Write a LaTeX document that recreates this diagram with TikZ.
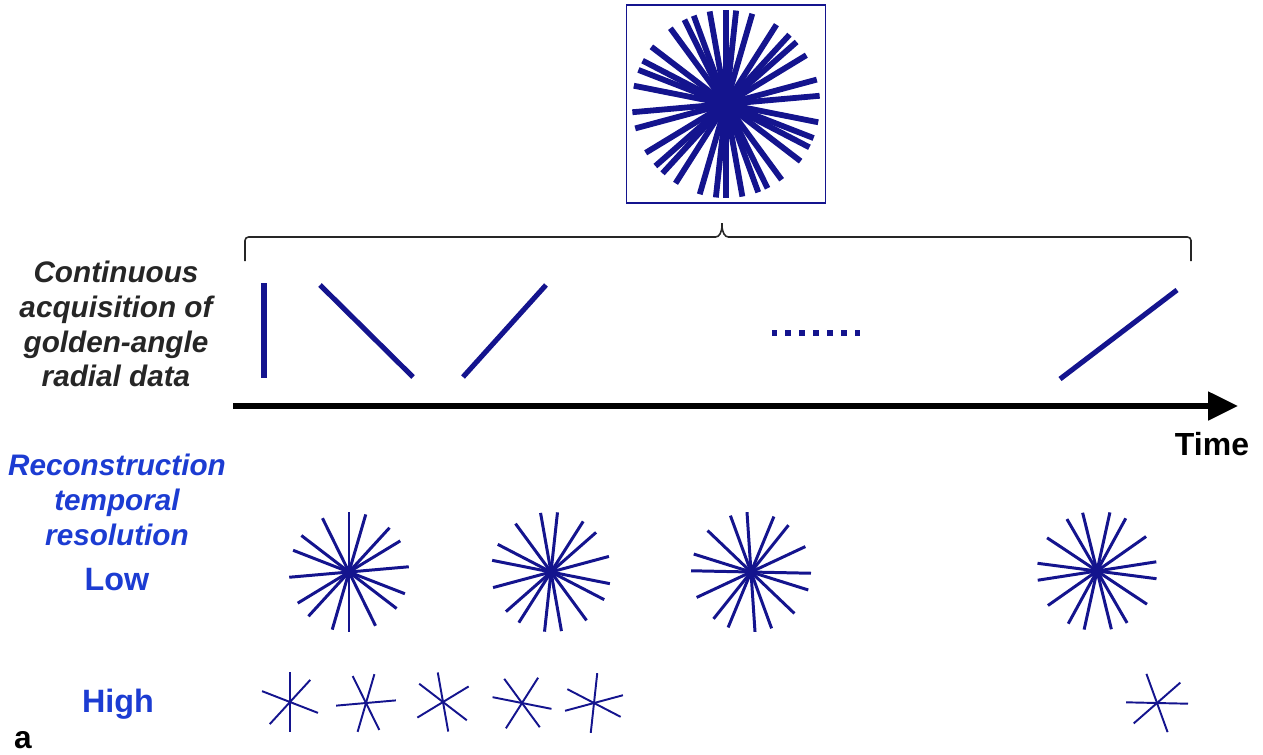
\documentclass[tikz,border=0pt]{standalone}
\usepackage{fontspec}
\setmainfont{Liberation Sans}
\usepackage{xcolor}
\usepackage{tikz}
\usetikzlibrary{arrows.meta}
\definecolor{gablue}{HTML}{14148E}
\definecolor{gatext}{HTML}{1C3CD2}
\definecolor{gagray}{HTML}{262626}
\newcommand{\gangle}{111.246}
% star of golden-angle spokes: centre, first angle, spokes, radius, width
\newcommand{\gastar}[5]{%
  \foreach \k in {1,...,#3}{%
    \draw[gablue,line width=#5] (#1) ++({-(#2)+(\k-1)*\gangle}:#4) -- ++({-(#2)+(\k-1)*\gangle+180}:{2*#4});}}

\begin{document}
\begin{tikzpicture}[x=0.02cm,y=-0.02cm,
  lbl/.style={font=\fontsize{16.9}{19.8}\selectfont\bfseries\itshape,align=center,inner sep=0pt},
  lvl/.style={font=\fontsize{18.4}{22}\selectfont\bfseries,text=gatext,inner sep=0pt,anchor=base},
  acq/.style={gablue,line width=2.9pt},
  brc/.style={gagray,line width=0.9pt,rounded corners=2pt},
  axis/.style={-{Triangle[length=6mm,width=5.6mm]},line width=2.9pt,black}]
\useasboundingbox (0,0) rectangle (1263,754);
% full data set
\node[draw=gablue,line width=0.8pt,minimum width=3.98cm,minimum height=3.96cm,inner sep=0pt] (box) at (726,104) {};
\gastar{box.center}{90}{17}{94}{3.3pt}
\draw[brc] (245,261) -- (245,237) -- (712,237) .. controls (719,237) and (722,233) .. (722,221)
  .. controls (722,233) and (725,237) .. (732,237) -- (1191,237) -- (1191,261);
% labels
\node[lbl,text=gagray] (acqlbl) at (116,324) {Continuous\\acquisition of\\golden-angle\\radial data};
\node[lbl,text=gatext] (reclbl) at (117,500) {Reconstruction\\temporal\\resolution};
\node[lvl] (low) at (117,590) {Low};
\node[lvl] (high) at (118,712) {High};
\node[font=\fontsize{18.2}{22}\selectfont\bfseries,inner sep=0pt,anchor=base] (time) at (1212,455) {Time};
\node[font=\fontsize{18}{22}\selectfont\bfseries,inner sep=0pt,anchor=base] (panel) at (23,748) {a};
% acquired spokes
\draw[acq] (264,283) -- (264,378);
\draw[acq] (320,285) -- (413,377);
\draw[acq] (463,377) -- (546,285);
\foreach \i in {0,...,6}
  \fill[gablue] ({771.5+\i*13.9},330) rectangle ++(5.5,5.5);
\draw[acq] (1060,379) -- (1177,290);
% time axis
\coordinate (t0) at (233,406);
\coordinate (t1) at (1238,406);
\draw[axis] (t0) -- (t1);
% low temporal resolution
\coordinate (l1) at (349,572);
\coordinate (l2) at (551,572);
\coordinate (l3) at (751,572);
\coordinate (l4) at (1097,571);
\gastar{l1}{90}{8}{60}{1.7pt}
\gastar{l2}{100.03}{8}{60}{1.7pt}
\gastar{l3}{110.06}{8}{60}{1.7pt}
\gastar{l4}{120.09}{8}{60}{1.7pt}
% high temporal resolution
\coordinate (h1) at (290,702);
\coordinate (h2) at (366,703);
\coordinate (h3) at (443,702);
\coordinate (h4) at (522,703);
\coordinate (h5) at (594,703);
\coordinate (h6) at (1157,703);
\gastar{h1}{90}{3}{30}{1.1pt}
\gastar{h2}{116.26}{3}{30}{1.1pt}
\gastar{h3}{142.52}{3}{30}{1.1pt}
\gastar{h4}{168.78}{3}{30}{1.1pt}
\gastar{h5}{15.04}{3}{30}{1.1pt}
\gastar{h6}{41.2}{3}{31}{1.1pt}
\end{tikzpicture}
\end{document}
